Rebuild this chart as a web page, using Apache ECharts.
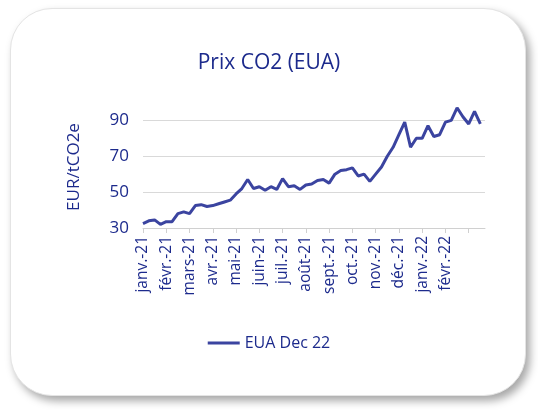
<!DOCTYPE html>
<html>
<head>
<meta charset="utf-8">
<script src="https://cdn.jsdelivr.net/npm/echarts@6/dist/echarts.min.js"></script>
<style>
  html, body { margin: 0; padding: 0; background: #fff; }
  #card {
    position: absolute; left: 10px; top: 8px; width: 514px; height: 386px;
    border-radius: 42px; background: #fff;
    border: 1px solid #e4e4e4;
    box-shadow: 4px 5px 8px rgba(0,0,0,0.35);
  }
  #chart { position: absolute; left: 0; top: 0; width: 538px; height: 410px; }
</style>
</head>
<body>
<div id="card"></div>
<div id="chart"></div>
<script>
// month labels, index 0 = janv.-21
var monthLabels = ['janv.-21', 'févr.-21', 'mars-21', 'avr.-21', 'mai-21', 'juin-21', 'juil.-21',
    'août-21', 'sept.-21', 'oct.-21', 'nov.-21', 'déc.-21', 'janv.-22', 'févr.-22'];
// weekly prices, roughly 4 per month
var prices = [
    32.5, 34, 34.5, 32,
    33.5, 33.5, 38, 39,
    38, 42.5, 43, 42,
    42.5, 43.5, 44.5, 45.5,
    49, 52, 57, 52,
    53, 51, 53, 51.5,
    57.5, 53, 53.5, 51.5,
    54, 54.5, 56.5, 57,
    55, 60, 62, 62.5,
    63.5, 59, 60, 56,
    60, 64, 70, 75,
    82, 89, 75, 80,
    80, 87, 81, 82,
    89, 90, 97, 92,
    88, 95, 88
];
var seriesData = prices.map(function (v, i) { return [i * 0.25, v]; });

var navy = '#1c2a8c';
var chart = echarts.init(document.getElementById('chart'));
chart.setOption({
    animation: false,
    title: {
        text: 'Prix CO2 (EUA)', left: 'center', top: 48,
        textStyle: { color: navy, fontSize: 21, fontWeight: 'normal', fontFamily: 'Open Sans' }
    },
    legend: {
        bottom: 54, left: 'center', icon: 'rect', itemWidth: 32, itemHeight: 3,
        textStyle: { color: navy, fontSize: 16, fontFamily: 'Open Sans' }
    },
    grid: { left: 143, right: 53, top: 106, bottom: 182 },
    xAxis: {
        type: 'value', min: 0, max: 14.7, interval: 1,
        axisLine: { lineStyle: { color: '#d0d0d0' } },
        axisTick: { show: true, length: 5, lineStyle: { color: '#d0d0d0' } },
        splitLine: { show: false },
        axisLabel: {
            rotate: 90, color: navy, fontSize: 15.5, fontFamily: 'Open Sans', showMaxLabel: false,
            hideOverlap: false, interval: 0,
            formatter: function (v) { return monthLabels[Math.round(v)] || ''; }
        }
    },
    yAxis: {
        type: 'value', min: 30, max: 98, interval: 20,
        name: 'EUR/tCO2e', nameLocation: 'middle', nameGap: 60, nameRotate: 90,
        nameTextStyle: { color: navy, fontSize: 17, fontFamily: 'Open Sans' },
        axisLine: { show: false }, axisTick: { show: false },
        axisLabel: { color: navy, fontSize: 17, fontFamily: 'Open Sans', showMaxLabel: false, margin: 14 },
        splitLine: { lineStyle: { color: ['#d9d9d9', '#d9d9d9', '#d9d9d9', '#d9d9d9', 'rgba(0,0,0,0)'] } }
    },
    series: [{
        name: 'EUA Dec 22', type: 'line', data: seriesData, showSymbol: false,
        lineStyle: { color: '#3b44a0', width: 3 }, itemStyle: { color: '#3b44a0' }
    }]
});
</script>
</body>
</html>
